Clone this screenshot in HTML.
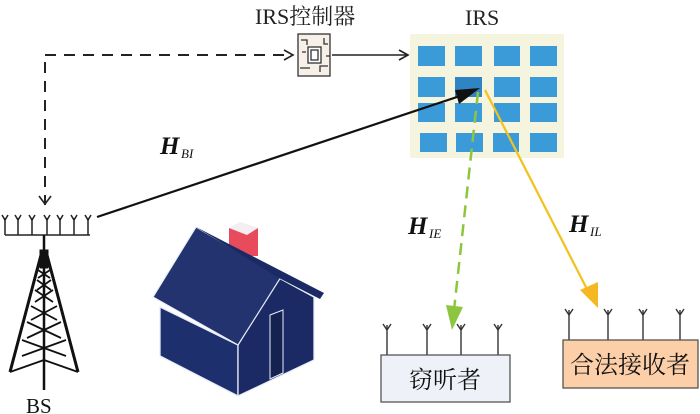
<!DOCTYPE html>
<html><head><meta charset="utf-8"><style>
html,body{margin:0;padding:0;background:#fff;}
svg{display:block}
</style></head><body>
<svg width="700" height="414" viewBox="0 0 700 414" xmlns="http://www.w3.org/2000/svg">
<defs>
<marker id="open" markerWidth="12" markerHeight="12" refX="10" refY="6" orient="auto" markerUnits="userSpaceOnUse"><path d="M1,1 L10,6 L1,11" fill="none" stroke="#222" stroke-width="1.6"/></marker>
</defs>
<text x="255" y="24" font-family="Liberation Serif, Noto Serif CJK SC, serif" font-size="22" fill="#222">IRS控制器</text>
<text x="465" y="25" font-family="Liberation Serif, serif" font-size="22" fill="#222">IRS</text>
<path d="M45,55 L293,55" stroke="#222" stroke-width="2" stroke-dasharray="11,8" fill="none" marker-end="url(#open)"/>
<path d="M45,62 L45,205" stroke="#222" stroke-width="2" stroke-dasharray="11,8" fill="none"/>
<path d="M39,196 L45,204 L51,196" stroke="#222" stroke-width="1.6" fill="none"/>
<g stroke="#333" stroke-width="1.3" fill="#f6f0e8">
<rect x="298" y="34" width="32" height="42"/>
<rect x="308" y="47" width="13" height="16" fill="#fff"/>
<rect x="311" y="50" width="7" height="10" fill="none"/>
<path d="M301,40 h6 v5 M324,38 v6 h4 M300,68 h10 M320,72 v-6 h8 M302,52 h4 M326,56 h4" fill="none"/>
</g>
<path d="M332,55 L408,55" stroke="#222" stroke-width="1.6" marker-end="url(#open)"/>
<rect x="410" y="34" width="154" height="124" fill="#f4f4df"/>
<g fill="#3b9ad8">
<rect x="418" y="46" width="27" height="20"/><rect x="455" y="46" width="27" height="20"/><rect x="494" y="46" width="26" height="20"/><rect x="530" y="46" width="27" height="20"/>
<rect x="418" y="77" width="27" height="20"/><rect x="455" y="77" width="27" height="20" fill="#2f85c4"/><rect x="494" y="77" width="26" height="20"/><rect x="530" y="77" width="27" height="20"/>
<rect x="418" y="103" width="27" height="19"/><rect x="455" y="103" width="27" height="19"/><rect x="494" y="103" width="26" height="19"/><rect x="530" y="103" width="27" height="19"/>
<rect x="420" y="133" width="27" height="19"/><rect x="456" y="133" width="27" height="19"/><rect x="493" y="133" width="26" height="19"/><rect x="530" y="133" width="27" height="19"/>
</g>
<path d="M97,217 L466,94" stroke="#111" stroke-width="2.2"/>
<path d="M480,88 L459,104 L455,90 Z" fill="#111"/>
<text x="160" y="154" font-family="Liberation Serif, serif" font-size="25" font-weight="bold" font-style="italic" fill="#111">H</text>
<text x="181" y="158" font-family="Liberation Serif, serif" font-size="13" font-style="italic" fill="#111">BI</text>
<path d="M478,92 L454,310" stroke="#8cc63f" stroke-width="2.5" stroke-dasharray="12,7"/>
<path d="M446,305 L463,307 L452,330 Z" fill="#8cc63f"/>
<path d="M485,90 L590,295" stroke="#f2c21b" stroke-width="2.2"/>
<path d="M580,290 L598,282 L598,308 Z" fill="#f5b820"/>
<text x="408" y="234" font-family="Liberation Serif, serif" font-size="25" font-weight="bold" font-style="italic" fill="#111">H</text>
<text x="429" y="238" font-family="Liberation Serif, serif" font-size="13" font-style="italic" fill="#111">IE</text>
<text x="569" y="232" font-family="Liberation Serif, serif" font-size="25" font-weight="bold" font-style="italic" fill="#111">H</text>
<text x="590" y="236" font-family="Liberation Serif, serif" font-size="13" font-style="italic" fill="#111">IL</text>
<g stroke="#222" stroke-width="1.5" fill="none">
<path d="M5,235 H90"/>
<path d="M5,218 V235 M18,218 V235 M32,218 V235 M47,218 V235 M60,218 V235 M74,218 V235 M88,218 V235"/>
<path d="M2,215 L5,220 L8,215 M15,215 L18,220 L21,215 M29,215 L32,220 L35,215 M44,215 L47,220 L50,215 M57,215 L60,220 L63,215 M71,215 L74,220 L77,215 M85,215 L88,220 L91,215"/>
</g>
<g stroke="#111" fill="none">
<path d="M44,235 V390" stroke-width="2.5"/>
<path d="M41,255 L10,372 M47,255 L78,372" stroke-width="3"/>
<rect x="40" y="250" width="8" height="18" fill="#111"/>
<path d="M38,270 L50,278 M50,270 L38,278 M37,280 L51,290 M51,280 L37,290 M35,290 L53,302 M53,290 L35,302 M31,306 L57,320 M57,306 L31,320 M27,322 L61,338 M61,322 L27,338 M22,340 L66,356 M66,340 L22,356 M10,372 L44,360 L78,372" stroke-width="1.8"/>
</g>
<text x="26" y="413" font-family="Liberation Serif, serif" font-size="21" fill="#111">BS</text>
<rect x="229" y="228" width="29" height="28" fill="#e84c5c"/>
<path d="M229,228 L240,222 L258,228 L247,235 Z" fill="#f4eef2"/>
<path d="M160,307 L238,345 L238,396 L160,356 Z" fill="#1e2f6e" stroke="#e8eef8" stroke-width="1.3"/>
<path d="M238,345 L279,278 L314,297 L314,360 L238,396 Z" fill="#1b2a64" stroke="#e8eef8" stroke-width="1.3"/>
<path d="M270,315 L283,310 L283,373 L270,379 Z" fill="#15224f" stroke="#e8eef8" stroke-width="1"/>
<path d="M153,297 L196,227 L281,277 L238,345 Z" fill="#22336f" stroke="#e8eef8" stroke-width="1.2"/>
<path d="M196,227 L324,293 L320,299 L279,278 Z" fill="#1b2a64"/>
<g stroke="#333" stroke-width="1.4" fill="none">
<path d="M387,325 V355 M427,325 V355 M461,325 V355 M498,325 V355"/>
<path d="M383,324 L387,330 L391,324 M423,324 L427,330 L431,324 M457,324 L461,330 L465,324 M494,324 L498,330 L502,324"/>
<path d="M569,310 V340 M608,310 V340 M643,310 V340 M680,310 V340"/>
<path d="M565,309 L569,315 L573,309 M604,309 L608,315 L612,309 M639,309 L643,315 L647,309 M676,309 L680,315 L684,309"/>
</g>
<rect x="381" y="355" width="129" height="47" fill="#eef1f8" stroke="#555" stroke-width="1.3"/>
<text x="445" y="388" text-anchor="middle" font-family="Liberation Serif, Noto Serif CJK SC, serif" font-size="24" fill="#111">窃听者</text>
<rect x="563" y="340" width="135" height="48" fill="#fccfa8" stroke="#555" stroke-width="1.3"/>
<text x="630" y="373" text-anchor="middle" font-family="Liberation Serif, Noto Serif CJK SC, serif" font-size="24" fill="#111">合法接收者</text>
</svg>
</body></html>
